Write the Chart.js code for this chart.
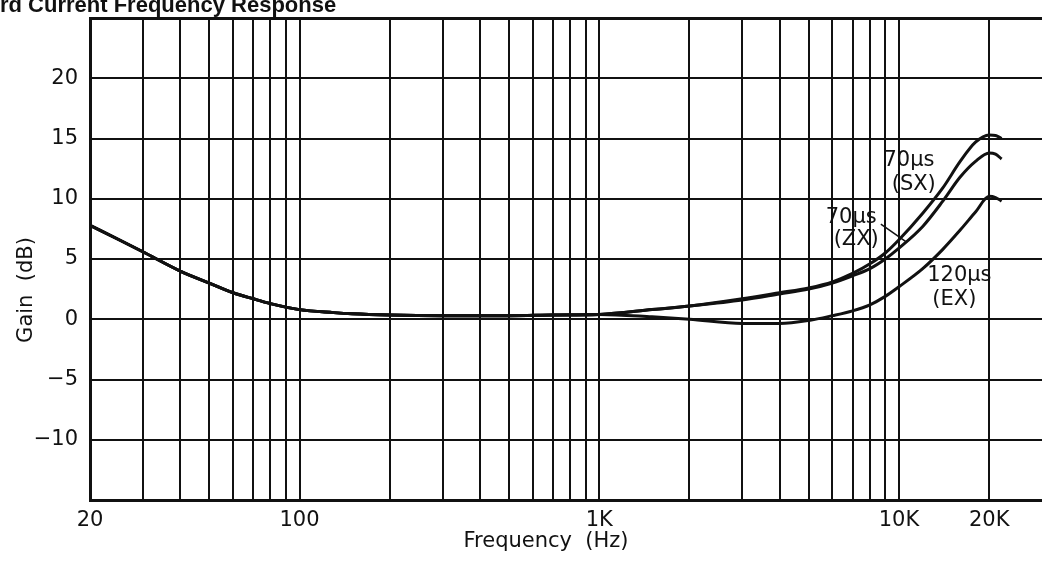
<!DOCTYPE html>
<html>
<head>
<meta charset="utf-8">
<script src="https://cdn.jsdelivr.net/npm/chart.js@4.4.1/dist/chart.umd.min.js"></script>
<style>
  html, body { margin: 0; padding: 0; background: #fff; overflow: hidden; }
  canvas { display: block; }
</style>
</head>
<body>
<canvas id="chart" width="1042" height="567"></canvas>
<script>
// Frequency points (Hz) shared by the three record-current curves
const frequencies = [20, 25, 30, 40, 50, 60, 70, 80, 100, 130, 150, 200, 300, 500, 700, 1000,
  1500, 2000, 3000, 4000, 5000, 6000, 7000, 8000, 9000, 10000, 12000, 14000, 16000, 18000, 20000, 21000, 22000];

// Gain (dB) for each equalisation
const gainSX = [7.8, 6.6, 5.6, 4.0, 3.0, 2.2, 1.7, 1.3, 0.8, 0.55, 0.45, 0.35, 0.3, 0.3, 0.35, 0.4,
  0.8, 1.1, 1.7, 2.2, 2.6, 3.1, 3.8, 4.6, 5.5, 6.6, 8.8, 10.9, 13.1, 14.7, 15.3, 15.25, 15.0];
const gainZX = [7.8, 6.6, 5.6, 4.0, 3.0, 2.2, 1.7, 1.3, 0.8, 0.55, 0.45, 0.35, 0.3, 0.3, 0.35, 0.4,
  0.8, 1.1, 1.6, 2.1, 2.5, 3.0, 3.6, 4.2, 5.0, 5.9, 7.7, 9.8, 11.8, 13.1, 13.8, 13.7, 13.3];
const gainEX = [7.8, 6.6, 5.6, 4.0, 3.0, 2.2, 1.7, 1.3, 0.8, 0.55, 0.45, 0.35, 0.3, 0.3, 0.35, 0.4,
  0.2, 0.0, -0.35, -0.35, -0.1, 0.3, 0.7, 1.2, 1.9, 2.7, 4.2, 5.8, 7.4, 8.9, 10.2, 10.1, 9.8];

// Grid lines on the frequency axis and the ones that carry a label
const xGridValues = [20, 30, 40, 50, 60, 70, 80, 90,
  100, 200, 300, 400, 500, 600, 700, 800, 900,
  1000, 2000, 3000, 4000, 5000, 6000, 7000, 8000, 9000,
  10000, 20000];
const xTickLabels = { 20: '20', 100: '100', 1000: '1K', 10000: '10K', 20000: '20K' };

// Gain axis
const yGridValues = [-15, -10, -5, 0, 5, 10, 15, 20, 25];
const yTickLabels = { '-10': '\u221210', '-5': '\u22125', '0': '0', '5': '5', '10': '10', '15': '15', '20': '20' };

// Curve captions, anchored in (Hz, dB)
const captionText = [['70\u00b5s', '(SX)'], ['70\u00b5s', '(ZX)'], ['120\u00b5s', '(EX)']];
const captionAnchors = [
  [[10800, 13.2], [11200, 11.2]],
  [[6930, 8.4], [7200, 6.6]],
  [[15900, 3.6], [15300, 1.6]]
];
const zxLeader = [[8700, 7.9], [10600, 6.4]];

const ink = '#111';
const face = '"DejaVu Sans", "Liberation Sans", sans-serif';

function series(values) {
  return frequencies.map((f, i) => ({ x: f, y: values[i] }));
}
function curve(label, values) {
  return {
    label, data: series(values),
    borderColor: ink, borderWidth: 3, pointRadius: 0,
    cubicInterpolationMode: 'monotone', fill: false
  };
}

const textLayer = {
  id: 'textLayer',
  afterDraw(chart) {
    const c = chart.ctx;
    const xs = chart.scales.x, ys = chart.scales.y;
    c.save();
    c.fillStyle = ink;

    // heading, running off the top-left corner
    c.font = 'bold 22px "Liberation Sans", Arial, sans-serif';
    c.textBaseline = 'alphabetic';
    c.textAlign = 'left';
    const lead = c.measureText('Reco').width;
    c.fillText('Record Current Frequency Response', -lead, 12);

    // axis titles
    c.font = '21px ' + face;
    c.textAlign = 'center';
    c.textBaseline = 'middle';
    c.fillText('Frequency  (Hz)', 546, 542);
    c.save();
    c.translate(27, 290);
    c.rotate(-Math.PI / 2);
    c.fillText('Gain  (dB)', 0, 0);
    c.restore();

    // curve captions
    c.font = '21px ' + face;
    captionText.forEach((lines, i) => {
      lines.forEach((t, j) => {
        const [f, g] = captionAnchors[i][j];
        c.fillText(t, xs.getPixelForValue(f), ys.getPixelForValue(g));
      });
    });

    // leader from the ZX caption to its curve
    c.strokeStyle = ink;
    c.lineWidth = 1.5;
    c.beginPath();
    c.moveTo(xs.getPixelForValue(zxLeader[0][0]), ys.getPixelForValue(zxLeader[0][1]));
    c.lineTo(xs.getPixelForValue(zxLeader[1][0]), ys.getPixelForValue(zxLeader[1][1]));
    c.stroke();
    c.restore();
  }
};

new Chart(document.getElementById('chart').getContext('2d'), {
  type: 'line',
  data: {
    datasets: [
      curve('70\u00b5s (SX)', gainSX),
      curve('70\u00b5s (ZX)', gainZX),
      curve('120\u00b5s (EX)', gainEX)
    ]
  },
  options: {
    responsive: false,
    animation: false,
    devicePixelRatio: 1,
    layout: { padding: { top: 18, left: 0, right: 0, bottom: 0 } },
    plugins: { legend: { display: false }, tooltip: { enabled: false }, title: { display: false } },
    scales: {
      x: {
        type: 'logarithmic',
        min: 20,
        max: 30000,
        afterBuildTicks(s) { s.ticks = xGridValues.map(v => ({ value: v })); },
        afterFit(s) { s.height = 67; s.paddingLeft = 0; s.paddingRight = 0; },
        ticks: {
          autoSkip: false, maxRotation: 0, minRotation: 0,
          color: ink, padding: 8,
          font: { family: face, size: 21 },
          callback: (v) => xTickLabels[v] ?? ''
        },
        grid: { color: ink, lineWidth: 2, drawTicks: false },
        border: { display: true, color: ink, width: 3 }
      },
      y: {
        min: -15,
        max: 25,
        afterBuildTicks(s) { s.ticks = yGridValues.map(v => ({ value: v })); },
        afterFit(s) { s.width = 90; s.paddingTop = 0; s.paddingBottom = 0; },
        ticks: {
          color: ink, padding: 12,
          font: { family: face, size: 21 },
          callback: (v) => yTickLabels[String(v)] ?? ''
        },
        grid: {
          color: ink,
          lineWidth: (ctx) => (ctx.tick && ctx.tick.value === 25 ? 3 : 2),
          drawTicks: false
        },
        border: { display: true, color: ink, width: 3 }
      }
    }
  },
  plugins: [textLayer]
});
</script>
</body>
</html>
